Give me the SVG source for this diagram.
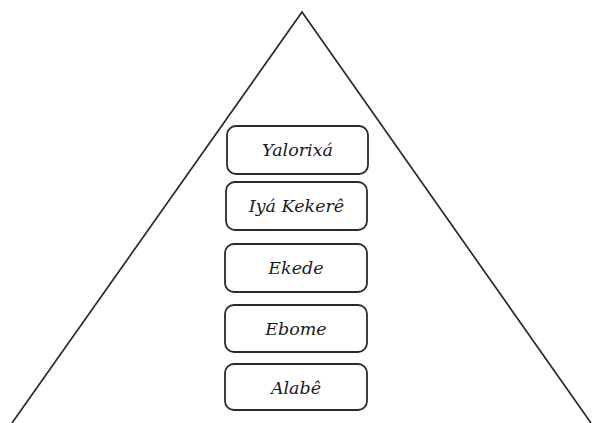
<svg xmlns="http://www.w3.org/2000/svg" width="592" height="423" viewBox="0 0 592 423">
<style>
.box{fill:#fff;stroke:#2a2a2a;stroke-width:1.8}
.lbl{font-family:"DejaVu Serif","Liberation Serif",serif;font-style:italic;font-size:17.5px;fill:#1a1a1a;text-anchor:middle}
.tri{fill:none;stroke:#2a2a2a;stroke-width:1.7}
</style>
<rect width="592" height="423" fill="#fff"/>
<g id="connectors">
<polyline class="tri" points="12,423 302,12 591,423"/>
</g>
<g id="yalorixa"><rect class="box" x="227" y="126" width="141" height="48" rx="9"/><text class="lbl" x="297.5" y="156">Yalorixá</text></g>
<g id="iya-kekere"><rect class="box" x="226" y="182" width="141" height="48" rx="9"/><text class="lbl" x="296.5" y="212">Iyá Kekerê</text></g>
<g id="ekede"><rect class="box" x="225" y="244" width="142" height="48" rx="9"/><text class="lbl" x="296" y="274">Ekede</text></g>
<g id="ebome"><rect class="box" x="225" y="305" width="142" height="47" rx="9"/><text class="lbl" x="296" y="335">Ebome</text></g>
<g id="alabe"><rect class="box" x="225" y="364" width="142" height="46" rx="9"/><text class="lbl" x="296" y="393.5">Alabê</text></g>
</svg>
